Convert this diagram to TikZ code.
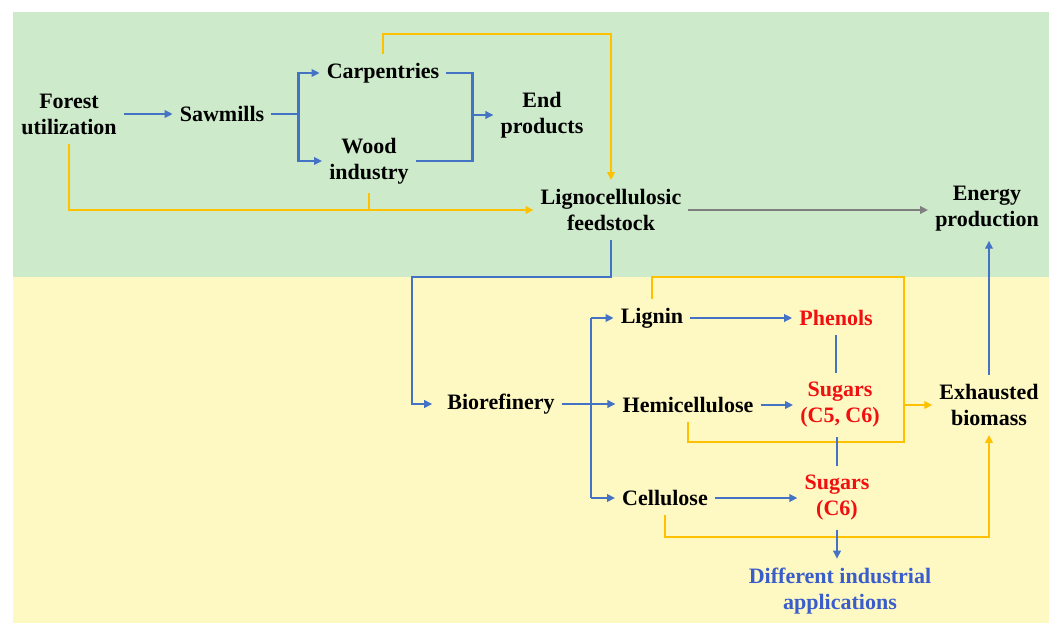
\documentclass[tikz,border=0pt]{standalone}
\usepackage{fontspec}
\setmainfont{Liberation Serif}
\usetikzlibrary{arrows.meta, positioning, calc}
\definecolor{BgGreen}{HTML}{CDEACB}
\definecolor{BgYellow}{HTML}{FEF8C2}
\definecolor{LnBlue}{HTML}{4472C4}
\definecolor{LnGold}{HTML}{FFC000}
\definecolor{LnGray}{HTML}{7F7F7F}
\definecolor{TxtRed}{HTML}{F01010}
\definecolor{TxtBlue}{HTML}{3A5DCC}

\begin{document}
\begin{tikzpicture}[
      x=1pt, y=-1pt,
      txt/.style={font=\fontsize{22}{26}\selectfont\bfseries, align=center,
                  inner xsep=7pt, inner ysep=9pt, text=black},
      prod/.style={txt, text=TxtRed},
      bline/.style={draw=LnBlue, line width=2.6pt},
      barrow/.style={bline, -{Triangle[length=8pt, width=7.5pt]}},
      yline/.style={draw=LnGold, line width=2.6pt},
      yarrow/.style={yline, -{Triangle[length=8pt, width=7.5pt]}},
      garrow/.style={draw=LnGray, line width=2.6pt, -{Triangle[length=8pt, width=7.5pt]}}
    ]
    \useasboundingbox (0,0) rectangle (1052,626);

    % background bands
    \fill[BgGreen]  (13,12)  rectangle (1049,277);
    \fill[BgYellow] (13,277) rectangle (1049,623);

    % forest side
    \node[txt] (fu)   at (69,114)  {Forest\\utilization};
    \node[txt] (saw)  at (222,114) {Sawmills};
    \node[txt] (carp) at (383,73)  {Carpentries};
    \node[txt] (wood) at (369,161) {Wood\\industry};
    \node[txt] (endp) at (542,115) {End\\products};
    \node[txt] (lf)   at (611,210) {Lignocellulosic\\feedstock};
    \node[txt] (en)   at (987,209) {Energy\\production};

    % biorefinery side
    \node[txt] (bio)  at (501,404) {Biorefinery};
    \node[txt] (lig)  at (652,318) {Lignin};
    \node[txt] (hemi) at (688,405) {Hemicellulose};
    \node[txt] (cel)  at (665,498) {Cellulose};
    \node[prod] (phe) at (836,318) {Phenols};
    \node[prod] (s56) at (840,405) {Sugars\\(C5, C6)};
    \node[prod] (s6)  at (837,498) {Sugars\\(C6)};
    \node[txt] (exb)  at (989,405) {Exhausted\\biomass};
    \node[txt, text=TxtBlue] (dia) at (840,591) {Different industrial\\applications};

    \coordinate (lb) at (412,277);
    \coordinate (bj) at (591,404);
    \coordinate (yc) at (904,277);
    \coordinate (yd) at (904,442);
    \coordinate (yf) at (0,537);

    % residue streams
    \draw[yarrow] (carp.north) -- ++(0,-20) -| (lf.north);
    \draw[yarrow] (fu.south) |- (lf.west);
    \draw[yline] (wood.south) -- (wood.south |- lf.west);
    \draw[yline] (lig.north) |- (yc) -- (yd) -| (hemi.south);
    \draw[yarrow] (yc |- exb.west) -- (exb.west);
    \draw[yarrow] (cel.south) -- (cel.south |- yf) -| (exb.south);

    % wood chain
    \draw[barrow] (fu.east) -- (saw.west);
    \draw[bline] (saw.east) -- ++(27,0) coordinate (sj);
    \draw[barrow] (sj) |- (carp.west);
    \draw[barrow] (sj) |- (wood.west);
    \coordinate (ej) at ($(carp.east)+(26,0)$);
    \draw[bline] (carp.east) -- (ej) |- (wood.east);
    \draw[barrow] (ej |- endp.west) -- (endp.west);
    \draw[garrow] (lf.east) -- (lf.east -| en.west);

    % fractionation
    \draw[barrow, shorten >=8pt] (lf.south) |- (lb) |- (bio.west);
    \draw[barrow] (bio.east) -- (bio.east -| hemi.west);
    \draw[bline] (bj |- lig.west) -- (bj |- cel.west);
    \draw[barrow] (bj |- lig.west) -- (lig.west);
    \draw[barrow] (bj |- cel.west) -- (cel.west);
    \draw[barrow] (lig.east) -- (phe.west);
    \draw[barrow] (hemi.east) -- (s56.west);
    \draw[barrow] (cel.east) -- (cel.east -| s6.west);
    \draw[bline] (phe.south) -- (phe.south |- s56.north);
    \draw[bline] (s6.north) -- (s6.north |- s56.south);
    \draw[barrow] (s6.south) -- (s6.south |- dia.north);
    \draw[barrow] (exb.north) -- (exb.north |- en.south);

  \end{tikzpicture}
\end{document}
